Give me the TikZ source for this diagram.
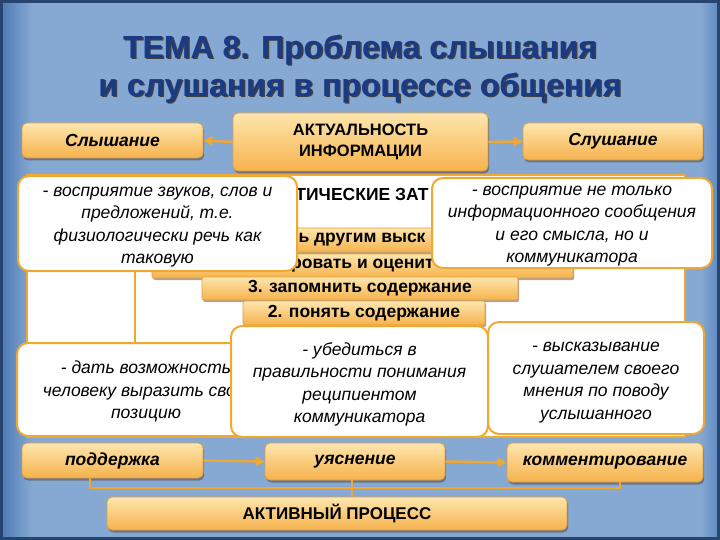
\documentclass[tikz,border=0pt]{standalone}
\usepackage{fontspec}
\setmainfont{Liberation Sans}
\usetikzlibrary{shadows,arrows.meta,calc}
\definecolor{bgblue}{HTML}{86A9D3}
\definecolor{bgdark}{HTML}{4A78B3}
\definecolor{frame}{HTML}{27446E}
\definecolor{navy}{HTML}{1B3A85}
\definecolor{otop}{HTML}{FDE6AE}
\definecolor{obot}{HTML}{F6B24C}
\definecolor{oline}{HTML}{E59E34}
\definecolor{cline}{HTML}{F0A830}
\tikzset{
  obox/.style={rounded corners=5pt, draw=oline, line width=0.8pt,
    top color=otop, bottom color=obot, inner sep=0pt,
    drop shadow={shadow xshift=1.2pt, shadow yshift=-2.5pt, opacity=0.55, fill=black!70}},
  stripbox/.style={rounded corners=2pt, draw=oline, line width=0.6pt,
    top color=otop, bottom color=obot, inner sep=0pt,
    font=\fontsize{17.5}{20}\selectfont\bfseries,
    drop shadow={shadow xshift=1.2pt, shadow yshift=-2pt, opacity=0.5, fill=black!70}},
  callout/.style={rounded corners=11pt, draw=cline, line width=2pt, fill=white,
    inner sep=0pt},
  ctext/.style={inner sep=0pt, align=center,
    font=\fontsize{17.5}{22.5}\selectfont\itshape},
  conn/.style={draw=cline, line width=2.4pt},
  arr/.style={conn, -{Triangle[length=9pt,width=9pt]}},
  titletext/.style={font=\fontsize{32}{38}\selectfont\bfseries, inner sep=0pt}
}
\begin{document}
\begin{tikzpicture}[x=1pt,y=-1pt]
\useasboundingbox (0,0) rectangle (720,540);
% background
\fill[bgblue] (0,0) rectangle (720,540);
\shade[left color=bgdark, right color=bgblue] (0,0) rectangle (32,540);
\shade[left color=bgblue, right color=bgdark!70!bgblue] (700,0) rectangle (720,540);
\draw[frame, line width=3pt] (1.5,1.5) rectangle (718.5,538.5);
% title
\node[titletext, text=black!75] (t1s) at (361.5,51.5) {ТЕМА 8. Проблема слышания};
\node[titletext, text=navy] (t1) at (360,50) {ТЕМА 8. Проблема слышания};
\node[titletext, text=black!75] (t2s) at (361.5,89.5) {и слушания в процессе общения};
\node[titletext, text=navy] (t2) at (360,88) {и слушания в процессе общения};
% top boxes
\node[obox, minimum width=181pt, minimum height=35pt,
  font=\fontsize{17.5}{20}\selectfont\bfseries\itshape] (slysh) at (112.5,140.5) {Слышание};
\node[obox, minimum width=255pt, minimum height=58pt, align=center,
  font=\fontsize{16.5}{21}\selectfont\bfseries] (akt) at (360.5,142) {АКТУАЛЬНОСТЬ\\ИНФОРМАЦИИ};
\node[obox, minimum width=180pt, minimum height=37pt,
  font=\fontsize{17.5}{20}\selectfont\bfseries\itshape] (slush) at (613,141.5) {Слушание};
\draw[arr] (akt.west) -- (slysh.east);
\draw[arr] (akt.east) -- (slush.west);
% white panel
\node[draw=cline, line width=2.2pt, fill=white, minimum width=658pt, minimum height=262pt, inner sep=0pt] (panel) at (356,306) {};
\coordinate (vl) at (135,270);
\coordinate (hl) at (27,344);
\draw[draw=cline, line width=2pt] (vl) -- (135,344);
\draw[draw=cline, line width=2pt] (hl) -- (240,344);
% heading fragment
\node[font=\fontsize{17.5}{20}\selectfont\bfseries, inner sep=0pt] (head) at (362,194) {ТИЧЕСКИЕ ЗАТ};
% strips
\node[stripbox, minimum width=300pt, minimum height=24pt] (s5) at (362,240) {ь другим выск};
\node[stripbox, minimum width=421pt, minimum height=24pt] (s4) at (362.5,266) {ровать и оценит};
\node[stripbox, minimum width=316pt, minimum height=23pt] (s3) at (360,288.5) {3. запомнить содержание};
\node[stripbox, minimum width=242pt, minimum height=24pt] (s2) at (364,313) {2. понять содержание};
% top callouts
\node[callout, minimum width=279pt, minimum height=95pt] (cl1) at (157.5,223.5) {};
\node[ctext] (cl1t) at ([yshift=-3.5pt]cl1.center)
  {- восприятие звуков, слов и\\предложений, т.е.\\физиологически речь как\\таковую};
\node[callout, minimum width=280pt, minimum height=90pt] (cr1) at (572,223) {};
\node[ctext] (cr1t) at ([yshift=-3pt]cr1.center)
  {- восприятие не только\\информационного сообщения\\и его смысла, но и\\коммуникатора};
% bottom callouts
\node[callout, minimum width=258pt, minimum height=93pt] (cl2) at (146,389.5) {};
\node[ctext] (cl2t) at ([yshift=-2pt]cl2.center)
  {- дать возможность\\человеку выразить свою\\позицию};
\node[callout, minimum width=257pt, minimum height=111pt] (cm2) at (359.5,381.5) {};
\node[ctext] (cm2t) at ([yshift=-3pt]cm2.center)
  {- убедиться в\\правильности понимания\\реципиентом\\коммуникатора};
\node[callout, minimum width=216pt, minimum height=112pt] (cr2) at (596,378) {};
\node[ctext] (cr2t) at ([yshift=-4.5pt]cr2.center)
  {- высказывание\\слушателем своего\\мнения по поводу\\услышанного};
% bottom boxes
\node[obox, minimum width=181pt, minimum height=35pt,
  font=\fontsize{17.5}{20}\selectfont\bfseries\itshape] (podd) at (112.5,460.5) {поддержка};
\node[obox, minimum width=180pt, minimum height=37pt,
  font=\fontsize{17.5}{20}\selectfont\bfseries\itshape] (uyas) at (355,461.5) {уяснение};
\node[obox, minimum width=196pt, minimum height=39pt,
  font=\fontsize{17.5}{20}\selectfont\bfseries\itshape] (komm) at (605,462.5) {комментирование};
\draw[arr] (podd.east) -- (uyas.west);
\draw[arr] (uyas.east) -- (komm.west);
% bus lines
\coordinate (bl) at (90,488);
\coordinate (br) at (620,488);
\draw[conn, line width=2pt] (podd.south -| bl) -- (bl) -- (br) -- (komm.south -| br);
\node[obox, minimum width=460pt, minimum height=33pt,
  font=\fontsize{17}{20}\selectfont\bfseries] (aktiv) at (337,513.5) {АКТИВНЫЙ ПРОЦЕСС};
\draw[conn, line width=2pt] ([xshift=-3pt]uyas.south) -- ([xshift=-3pt]uyas.south |- aktiv.north);
\end{tikzpicture}
\end{document}
